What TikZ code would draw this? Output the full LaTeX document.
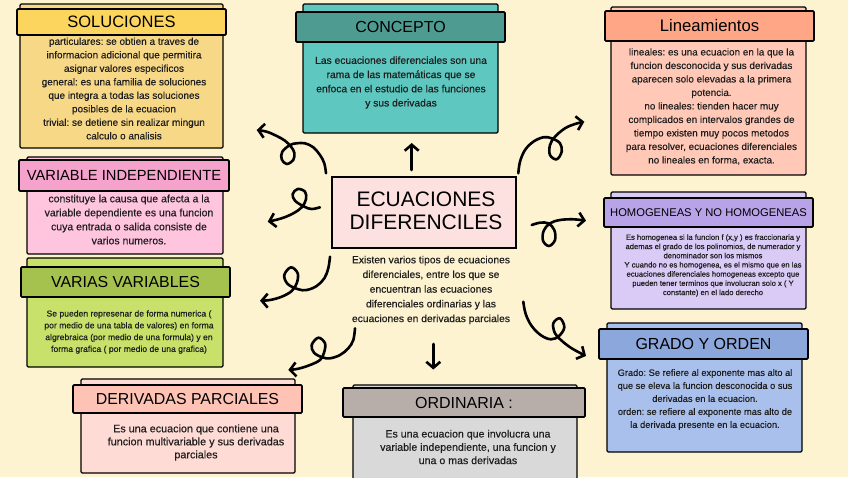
\documentclass[tikz,border=0pt]{standalone}
\usepackage{fontspec}
\setmainfont{Liberation Sans}
\newfontfamily\bodyf{Liberation Sans}[FakeBold=0.35]
\usetikzlibrary{arrows.meta}
\definecolor{bgc}{HTML}{FDF3D1}
\definecolor{solH}{HTML}{FCD55E}\definecolor{solB}{HTML}{F7D887}
\definecolor{conH}{HTML}{4E9B91}\definecolor{conB}{HTML}{5EC7BF}
\definecolor{linH}{HTML}{FFA687}\definecolor{linB}{HTML}{FFC8B7}
\definecolor{varH}{HTML}{F5A2CC}\definecolor{varB}{HTML}{FFC5DF}
\definecolor{homH}{HTML}{B8A3E9}\definecolor{homB}{HTML}{D9CAF6}
\definecolor{vvH}{HTML}{A6C24E}\definecolor{vvB}{HTML}{C7E16B}
\definecolor{graH}{HTML}{8BA7DB}\definecolor{graB}{HTML}{AAC0EC}
\definecolor{derH}{HTML}{FEC3B4}\definecolor{derB}{HTML}{FFDBD5}
\definecolor{ordH}{HTML}{B7AEAA}\definecolor{ordB}{HTML}{D9D9D9}
\definecolor{cenF}{HTML}{FDE1E1}
\definecolor{txtc}{HTML}{1E1E1E}
\newcommand{\fs}[2]{\fontsize{#1}{#2}\selectfont}
\newcommand{\bs}[2]{\bodyf\fontsize{#1}{#2}\selectfont\frenchspacing}
\begin{document}
\frenchspacing
\begin{tikzpicture}[x=1pt,y=-1pt,
  backbox/.style={draw=black,line width=1.3pt,rounded corners=1.2pt,inner sep=0pt},
  hdrbox/.style={draw=black,line width=1.8pt,rounded corners=1.2pt,inner sep=0pt,text=black,font=\fs{16}{16}},
  btxt/.style={align=center,inner sep=0pt,text=txtc},
  curly/.style={line width=2.6pt,line cap=round,line join=round,-{Straight Barb[length=6pt,width=14pt]}}]
\useasboundingbox (0,0) rectangle (848,477);
\fill[bgc] (0,0) rectangle (848,477);
\begin{scope}
\clip (0,0) rectangle (848,477);
% SOLUCIONES
\node[backbox,fill=solB,minimum width=203pt,minimum height=144pt] (bSol) at (121.5,76) {};
\node[hdrbox,fill=solH,minimum width=209pt,minimum height=26pt,font=\fs{16.5}{16.5}] (hSol) at (121.5,22) {SOLUCIONES};
\node[btxt,font=\bs{10}{13.5}] (tSol) at (124,88.5) {particulares: se obtien a traves de\\informacion adicional que permitira\\asignar valores especificos\\general: es una familia de soluciones\\que integra a todas las soluciones\\posibles de la ecuacion\\trivial: se detiene sin realizar mingun\\calculo o analisis};
% CONCEPTO
\node[backbox,fill=conB,minimum width=195pt,minimum height=129pt] (bCon) at (400.5,68.5) {};
\node[hdrbox,fill=conH,minimum width=209pt,minimum height=30pt] (hCon) at (400.5,27) {CONCEPTO};
\node[btxt,font=\bs{10.3}{14.2}] (tCon) at (401,82.5) {Las ecuaciones diferenciales son una\\rama de las matemáticas que se\\enfoca en el estudio de las funciones\\y sus derivadas};
% Lineamientos
\node[backbox,fill=linB,minimum width=195pt,minimum height=168pt] (bLin) at (708.5,91) {};
\node[hdrbox,fill=linH,minimum width=209pt,minimum height=30pt,font=\fs{16.7}{16.7}] (hLin) at (709.5,26) {Lineamientos};
\node[btxt,font=\bs{9.9}{13.5}] (tLin) at (711.5,106.5) {lineales: es una ecuacion en la que la\\funcion desconocida y sus derivadas\\aparecen solo elevadas a la primera\\potencia.\\no lineales: tienden hacer muy\\complicados en intervalos grandes de\\tiempo existen muy pocos metodos\\para resolver, ecuaciones diferenciales\\no lineales en forma, exacta.};
% VARIABLE INDEPENDIENTE
\node[backbox,fill=varB,minimum width=196pt,minimum height=97pt] (bVar) at (125,205.5) {};
\node[hdrbox,fill=varH,minimum width=210pt,minimum height=31pt,font=\fs{14.7}{14.7}] (hVar) at (124,175.5) {VARIABLE INDEPENDIENTE};
\node[btxt,font=\bs{10.5}{14}] (tVar) at (129,219.5) {constituye la causa que afecta a la\\variable dependiente es una funcion\\cuya entrada o salida consiste de\\varios numeros.};
% HOMOGENEAS
\node[backbox,fill=homB,minimum width=195pt,minimum height=117pt] (bHom) at (708.5,250.5) {};
\node[hdrbox,fill=homH,minimum width=209pt,minimum height=29pt,font=\fs{11.2}{11.2}] (hHom) at (708.5,212.5) {HOMOGENEAS Y NO HOMOGENEAS};
\node[btxt,font=\bs{7.6}{9.2}] (tHom) at (713,265.5) {Es homogenea si la funcion f (x,y ) es fraccionaria y\\ademas el grado de los polinomios, de numerador y\\denominador son los mismos\\Y cuando no es homogenea, es el mismo que en las\\ecuaciones diferenciales homogeneas excepto que\\pueden tener terminos que involucran solo x ( Y\\constante) en el lado derecho};
% VARIAS VARIABLES
\node[backbox,fill=vvB,minimum width=196pt,minimum height=109pt] (bVV) at (125,312.5) {};
\node[hdrbox,fill=vvH,minimum width=209pt,minimum height=30pt,font=\fs{15.9}{15.9}] (hVV) at (125.5,282) {VARIAS VARIABLES};
\node[btxt,font=\bs{8.6}{11.8}] (tVV) at (129,332) {Se pueden represenar de forma numerica (\\por medio de una tabla de valores) en forma\\algrebraica (por medio de una formula) y en\\forma grafica ( por medio de una grafica)};
% GRADO Y ORDEN
\node[backbox,fill=graB,minimum width=195pt,minimum height=129pt] (bGra) at (704.5,387.5) {};
\node[hdrbox,fill=graH,minimum width=209pt,minimum height=30pt] (hGra) at (703.5,344) {GRADO Y ORDEN};
\node[btxt,font=\bs{9.3}{13}] (tGra) at (705,399.5) {Grado: Se refiere al exponente mas alto al\\que se eleva la funcion desconocida o sus\\derivadas en la ecuacion.\\orden: se refiere al exponente mas alto de\\la derivada presente en la ecuacion.};
% DERIVADAS PARCIALES
\node[backbox,fill=derB,minimum width=214pt,minimum height=94pt] (bDer) at (188,426) {};
\node[hdrbox,fill=derH,minimum width=229pt,minimum height=28pt,font=\fs{15.9}{15.9}] (hDer) at (187.5,399) {DERIVADAS PARCIALES};
\node[btxt,font=\bs{10.8}{13}] (tDer) at (196,442.5) {Es una ecuacion que contiene una\\funcion multivariable y sus derivadas\\parciales};
% ORDINARIA
\node[backbox,fill=ordB,minimum width=224pt,minimum height=110pt] (bOrd) at (465,440) {};
\node[hdrbox,fill=ordH,minimum width=242pt,minimum height=29pt] (hOrd) at (464,402.5) {ORDINARIA :};
\node[btxt,font=\bs{10.6}{13.3}] (tOrd) at (468,447) {Es una ecuacion que involucra una\\variable independiente, una funcion y\\una o mas derivadas};
\end{scope}
% Central
\node[draw=black,line width=2.5pt,fill=cenF,minimum width=184pt,minimum height=71pt,inner sep=0pt] (cen) at (424,212.5) {};
\node[align=center,inner sep=0pt,font=\fs{21}{23}] (cenT) at (426,211) {ECUACIONES\\DIFERENCILES};
\node[btxt,font=\bs{10.3}{14.7}] (cenD) at (431,290) {Existen varios tipos de ecuaciones\\diferenciales, entre los que se\\encuentran las ecuaciones\\diferenciales ordinarias y las\\ecuaciones en derivadas parciales};
% arrow end points
\coordinate (aAs) at (326,173.3); \coordinate (aAe) at (256.7,130);
\coordinate (aBs) at (320,207.3); \coordinate (aBe) at (267.7,221.7);
\coordinate (aCs) at (330,256.7); \coordinate (aCe) at (260,300.7);
\coordinate (aDs) at (355,328.3); \coordinate (aDe) at (288.3,370);
\coordinate (aEs) at (411.7,170); \coordinate (aEe) at (411.7,143);
\coordinate (aFs) at (433.3,344); \coordinate (aFe) at (433.3,369.5);
\coordinate (aGs) at (518.3,173.3); \coordinate (aGe) at (584.3,121.7);
\coordinate (aHs) at (531.7,225); \coordinate (aHe) at (586,220.7);
\coordinate (aIs) at (523.3,301.7); \coordinate (aIe) at (586,356);
% curly arrows
\draw[curly] plot[smooth,tension=0.6] coordinates {(aAs) (324.3,163.3) (320,155) (313.3,147.3) (305,143.3) (296.7,143.3) (290,145) (282.3,151.7) (281.7,159.3) (286.7,164) (293.3,160) (294.3,152.7) (291,146.7) (285,140.7) (276.7,136) (266.7,131.7) (aAe)};
\draw[curly] plot[smooth,tension=0.6] coordinates {(aBs) (311.7,209) (304.3,206.7) (295,200.7) (292.7,194) (297.7,189) (305,191.7) (306,199.3) (301.7,207.3) (293.3,213.3) (281.7,218.3) (aBe)};
\draw[curly] plot[smooth,tension=0.6] coordinates {(aCs) (328.3,268.3) (324.3,278.3) (316.7,286) (306.7,290) (298.3,289.3) (287.7,284) (284.3,275) (291,267.3) (297.7,273.3) (296.7,283.3) (291.7,291) (281.7,296.7) (270,300) (aCe)};
\draw[curly] plot[smooth,tension=0.6] coordinates {(aDs) (353.3,340) (348.3,348.3) (340,355) (330,358.3) (322.3,357.3) (314,352.7) (311.7,345) (318.3,337.7) (325,343.3) (324,352.7) (320,360) (310,365) (298.3,368.7) (aDe)};
\draw[curly] (aEs) -- (aEe);
\draw[curly] (aFs) -- (aFe);
\draw[curly] plot[smooth,tension=0.6] coordinates {(aGs) (520,161.7) (525,150) (533.3,141.7) (543.3,137.3) (551.7,138.3) (560,143.3) (561.7,151.7) (556.7,159.3) (550,155) (550,145) (555,136.7) (565,128.3) (575,124) (aGe)};
\draw[curly] plot[smooth,tension=0.6] coordinates {(aHs) (540,222.7) (548.3,223.3) (554.3,230) (555,240) (549,246) (543,240.7) (543.7,230.7) (550,223.3) (560,220) (573.3,219.3) (aHe)};
\draw[curly] plot[smooth,tension=0.6] coordinates {(aIs) (525.7,314) (531.7,326) (541,335.3) (551,339.3) (559,336) (564.3,327.3) (560,318.3) (553.3,323.3) (555,333.3) (561.7,340.7) (571.7,348.3) (aIe)};
\end{tikzpicture}
\end{document}
